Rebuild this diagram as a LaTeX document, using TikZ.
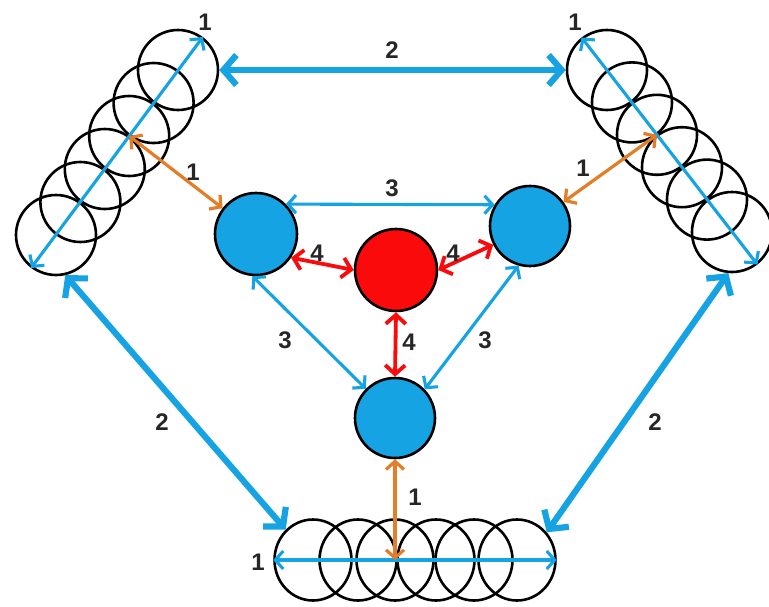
\documentclass[tikz,border=0pt]{standalone}
\usepackage{fontspec}
\setmainfont{Liberation Sans}
\usetikzlibrary{arrows.meta,shapes.geometric}
\definecolor{cblue}{RGB}{22,163,228}
\definecolor{cred}{RGB}{250,10,10}
\definecolor{corange}{RGB}{228,125,40}
\begin{document}
\begin{tikzpicture}[x=1pt,y=-1pt,
  ring/.style={circle,draw=black,line width=2.6pt,minimum size=80pt,inner sep=0pt},
  oval/.style={ellipse,draw=black,line width=2.6pt,minimum width=77pt,minimum height=81pt,inner sep=0pt},
  ball/.style={circle,draw=black,line width=2.6pt,minimum size=80pt,inner sep=0pt,fill=cblue},
  redball/.style={ball,fill=cred},
  bigarrow/.style={draw=cblue,line width=6.2pt,{Straight Barb[length=13pt,width=30pt]}-{Straight Barb[length=13pt,width=30pt]}},
  bluearrow/.style={draw=cblue,line width=3.1pt,{Straight Barb[length=8pt,width=18pt]}-{Straight Barb[length=8pt,width=18pt]}},
  redarrow/.style={draw=cred,line width=3.8pt,{Straight Barb[length=9pt,width=20pt]}-{Straight Barb[length=9pt,width=20pt]}},
  orarrow/.style={draw=corange,line width=3.2pt,{Straight Barb[length=8pt,width=18pt]}-{Straight Barb[length=8pt,width=18pt]}},
  lbl/.style={font=\bfseries\fontsize{24}{24}\selectfont,text=black!85,inner sep=0pt}
]
\useasboundingbox (0,0) rectangle (769,606);
\fill[white] (0,0) rectangle (769,606);

% chains of rings
\foreach \i in {1,...,6} {
  \node[ring] (L\i) at ({178-24.4*(\i-1)},{70+33*(\i-1)}) {};
  \node[ring] (R\i) at ({607+25*(\i-1)},{70+32.4*(\i-1)}) {};
}
\foreach \i/\x in {1/313,2/358,3/395,4/436,5/474,6/517} {
  \node[oval] (B\i) at (\x,560) {};
}

% inner balls
\node[ball,minimum size=82pt] (LB) at (256,234) {};
\node[ball] (RB) at (530,226) {};
\node[ball] (BB) at (395,418) {};
\node[redball,minimum size=82pt] (RD) at (396,270) {};

% arrows along the chains
\draw[bluearrow] (L1.53) -- (L6.233);
\draw[bluearrow] (R1.128) -- (R6.308);
\draw[bluearrow] (B1.west) -- (B6.east);

% big arrows between chains
\draw[bigarrow] (L1.east) -- (R1.west);
\draw[bigarrow] (L6.283) -- (B1.132);
\draw[bigarrow] (R6.265) -- (B6.43);

% thin blue arrows between balls
\draw[bluearrow] (LB.45) -- (RB.149);
\draw[bluearrow] (LB.265) -- (BB.135);
\draw[bluearrow] (RB.254) -- (BB.44);

% red arrows
\draw[redarrow] (LB.326) -- (RD.west);
\draw[redarrow] (RD.east) -- (RB.207);
\draw[redarrow] (RD.south) -- (BB.north);

% orange arrows
\draw[orarrow] (L3.center) -- (LB);
\draw[orarrow] (R3.center) -- (RB);
\draw[orarrow] (BB) -- (B3.center);

% labels
\node[lbl] (t1) at (205,22) {1};
\node[lbl] (t2) at (575,22) {1};
\node[lbl] (t3) at (392,50) {2};
\node[lbl] (t4) at (193,172) {1};
\node[lbl] (t5) at (583,168) {1};
\node[lbl] (t6) at (392,188) {3};
\node[lbl] (t7) at (317,253) {4};
\node[lbl] (t8) at (453,253) {4};
\node[lbl] (t9) at (409,342) {4};
\node[lbl] (t10) at (285,340) {3};
\node[lbl] (t11) at (485,340) {3};
\node[lbl] (t12) at (162,422) {2};
\node[lbl] (t13) at (655,422) {2};
\node[lbl] (t14) at (415,497) {1};
\node[lbl] (t15) at (258,562) {1};
\end{tikzpicture}
\end{document}
